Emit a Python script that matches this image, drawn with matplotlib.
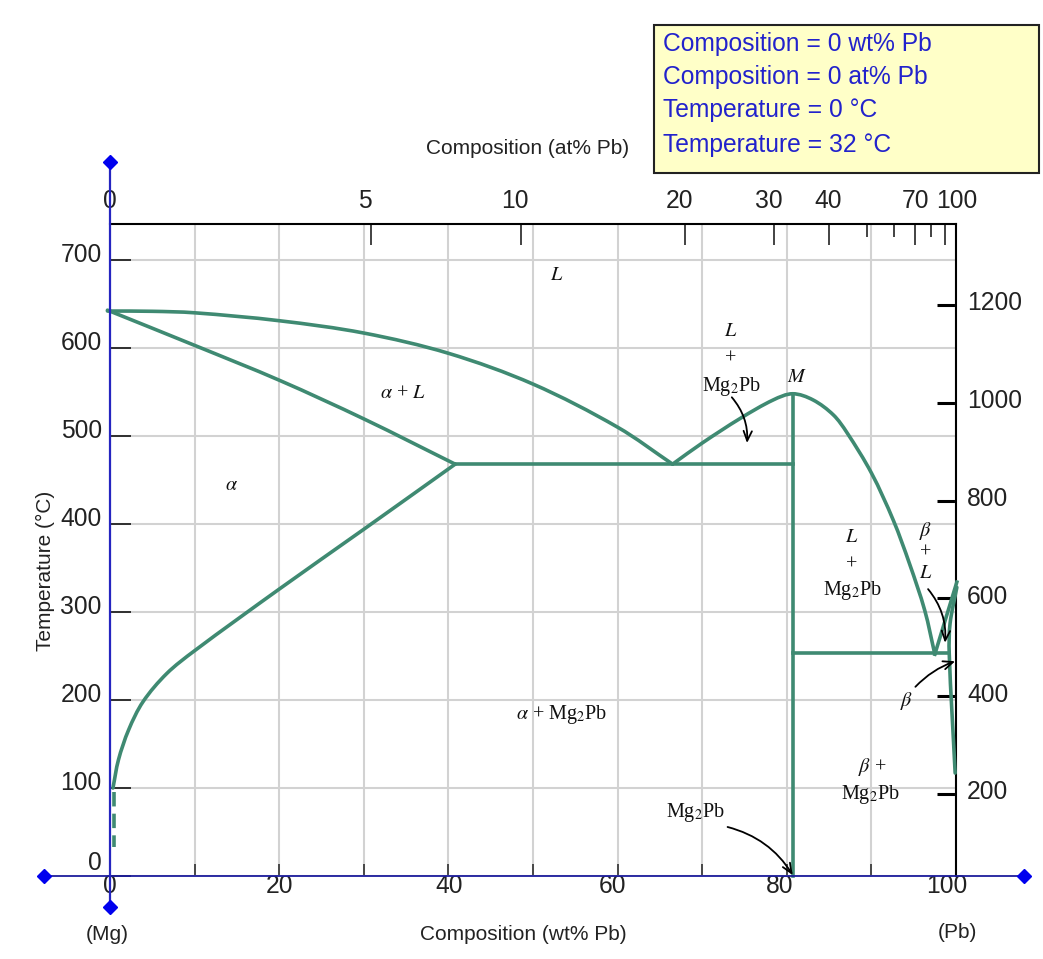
import matplotlib
matplotlib.use('Agg')
import matplotlib.pyplot as plt
from matplotlib.patches import FancyArrowPatch, PathPatch, Rectangle
from matplotlib.path import Path
from matplotlib.transforms import Affine2D, ScaledTranslation

W, H = 1043, 959

# phase boundaries (wt% Pb, deg C)
liq_left_x = [-0.3, 5, 10, 20, 30, 40, 50, 60, 66.5]
liq_left_y = [642, 641.7, 640, 631, 617, 594, 559, 510, 468]
sol_x = [-0.3, 10.0, 20.1, 30.1, 40.8]
sol_y = [643, 603, 563, 519, 468]
solvus_x = [40.8, 30, 20, 10.0, 6.7, 3.9, 2.2, 1.0, 0.35]
solvus_y = [468, 394, 326, 256, 230, 198, 166, 132, 100]
solvus_dash_x = [0.45, 0.45]
solvus_dash_y = [95, 33]
liq_dome_x = [66.5, 70.0, 74.5, 78.4, 80.7, 83.1, 85.5, 87.1, 90.0, 92.6, 94.5, 96.3, 97.5]
liq_dome_y = [468, 492, 520, 541, 548, 541, 524, 504, 458, 404, 355, 302, 252]
liq_beta_x = [97.5, 100.1]
liq_beta_y = [252, 334]
sol_beta_x = [100.1, 99.3, 99.2, 99.9]
sol_beta_y = [328, 287, 253, 117]
eutectic1_x = [40.8, 80.7]
eutectic1_y = [468, 468]
eutectic2_x = [80.7, 99.2]
eutectic2_y = [253, 253]
compound_x = [80.7, 80.7]
compound_y = [0, 548]

# axes
wt_ticks = [0, 10, 20, 30, 40, 50, 60, 70, 80, 90, 100]
wt_labels = ['0', '', '20', '', '40', '', '60', '', '80', '', '100']
wt_shift = [0, 0, 0, 0, 1, 0, -5, 0, -7, 0, -9]
temp_c_ticks = [0, 100, 200, 300, 400, 500, 600, 700]
temp_c_labels = ['0', '100', '200', '300', '400', '500', '600', '700']
temp_f_ticks = [200, 400, 600, 800, 1000, 1200]
# at% Pb ticks placed at their wt% Pb position
at_major_wt = [0, 30.9, 48.6, 68, 78.5, 85, 95.2, 98.7, 100]
at_major_labels = ['0', '5', '10', '20', '30', '40', '70', '', '100']
at_shift = [0, -7, -6, -6, -5, -1, 0, 0, 1]
at_minor_wt = [89.5, 92.7, 97.1]

readout = ['Composition = 0 wt% Pb', 'Composition = 0 at% Pb',
           'Temperature = 0 °C', 'Temperature = 32 °C']

GREEN = '#3f8a72'
SANS = 'Liberation Sans'
plt.rcParams['font.family'] = SANS
plt.rcParams['mathtext.fontset'] = 'stix'

fig = plt.figure(figsize=(W / 100, H / 100), dpi=100)
ax = fig.add_axes([110 / W, 1 - 876 / H, 846 / W, 652 / H])
ax.set_xlim(0, 100)
ax.set_ylim(0, 652 / 0.88)
px = Affine2D().scale(1 / W, -1 / H).translate(0, 1) + fig.transFigure


def nudge(label, dx, dy):
    label.set_transform(label.get_transform() + ScaledTranslation(dx / 100, dy / 100, fig.dpi_scale_trans))


def smooth_curve(xs, ys):
    # bezier segments through the read points so the boundary is not drawn as a polyline,
    # tangents weighted by on-screen spacing since the points are uneven
    pts = list(zip(xs, ys))
    n = len(pts)
    dist = [(((pts[i + 1][0] - pts[i][0]) * 8.46) ** 2 + ((pts[i + 1][1] - pts[i][1]) * 0.88) ** 2) ** 0.5
            for i in range(n - 1)]
    tang = []
    for i in range(n):
        a = max(i - 1, 0)
        b = min(i + 1, n - 1)
        span = sum(dist[a:b])
        tang.append(((pts[b][0] - pts[a][0]) / span, (pts[b][1] - pts[a][1]) / span))
    verts = [pts[0]]
    codes = [Path.MOVETO]
    for i in range(n - 1):
        d = dist[i] / 3
        verts.append((pts[i][0] + tang[i][0] * d, pts[i][1] + tang[i][1] * d))
        verts.append((pts[i + 1][0] - tang[i + 1][0] * d, pts[i + 1][1] - tang[i + 1][1] * d))
        verts.append(pts[i + 1])
        codes += [Path.CURVE4] * 3
    ax.add_patch(PathPatch(Path(verts, codes), fill=False, edgecolor=GREEN, lw=2.6,
                           capstyle='round', clip_on=False, zorder=3))


ax.set_axisbelow(True)
ax.grid(True, color='#d2d2d2', lw=1.5)
ax.set_xticks(wt_ticks, wt_labels, fontsize=17.7, color='#222222')
ax.set_yticks(temp_c_ticks, temp_c_labels, fontsize=17.7, color='#222222')
ax.tick_params(axis='x', direction='in', length=9, width=1.1, pad=0, color='#222222')
ax.tick_params(axis='y', direction='in', length=15, width=1.3, pad=6, color='#222222')
for lab, s in zip(ax.get_xticklabels(), wt_shift):
    nudge(lab, s, 2)
for lab, v in zip(ax.get_yticklabels(), temp_c_ticks):
    nudge(lab, 0, 15 if v == 0 else 7)

for side in ['top', 'right']:
    ax.spines[side].set_color('black')
    ax.spines[side].set_linewidth(1.5)
ax.spines['left'].set_visible(False)
ax.spines['bottom'].set_visible(False)

top = ax.secondary_xaxis('top')
top.set_xticks(at_major_wt, at_major_labels, fontsize=17.7, color='#222222')
top.set_xticks(at_minor_wt, minor=True)
top.tick_params(axis='x', which='major', direction='in', length=15, width=1.2, pad=8, color='#222222')
top.tick_params(axis='x', which='minor', direction='in', length=9, width=1.2, color='#222222')
top.spines['top'].set_visible(False)
for lab, s in zip(top.get_xticklabels(), at_shift):
    nudge(lab, s, 0)

right = ax.secondary_yaxis('right', functions=(lambda c: c * 1.8 + 32, lambda f: (f - 32) / 1.8))
right.set_yticks(temp_f_ticks, [str(v) for v in temp_f_ticks], fontsize=17.7, color='#222222')
right.tick_params(axis='y', direction='in', length=14, width=2.2, pad=8, color='black')
right.spines['right'].set_visible(False)
for lab in right.get_yticklabels():
    nudge(lab, 0, 4)

# phase boundaries
for xs, ys in [(liq_left_x, liq_left_y), (sol_x, sol_y), (solvus_x, solvus_y),
               (liq_dome_x, liq_dome_y), (sol_beta_x, sol_beta_y)]:
    smooth_curve(xs, ys)
for xs, ys in [(liq_beta_x, liq_beta_y), (eutectic1_x, eutectic1_y), (eutectic2_x, eutectic2_y),
               (compound_x, compound_y)]:
    ax.plot(xs, ys, color=GREEN, lw=2.6, clip_on=False, zorder=3)
ax.plot(solvus_dash_x, solvus_dash_y, color=GREEN, lw=2.6, dashes=(4, 2), clip_on=False, zorder=3)

# draggable axes of the original
ax.plot([-7.8, 108], [0, 0], color='#1c1c9c', lw=1.3, clip_on=False, zorder=4)
ax.plot([0, 0], [-35, 811], color='#2525c0', lw=1.6, clip_on=False, zorder=4)
ax.plot([-7.8, 108], [0, 0], ls='none', marker='D', ms=7.5, color='#0000ee', clip_on=False, zorder=5)
ax.plot([0, 0], [-35, 811], ls='none', marker='D', ms=7.5, color='#0000ee', clip_on=False, zorder=5)

ax.set_xlabel('Composition (wt% Pb)', fontsize=15, color='#222222')
ax.xaxis.set_label_coords(523, 935, transform=px)
ax.xaxis.label.set_va('center')
top.set_xlabel('Composition (at% Pb)', fontsize=15, color='#222222')
top.xaxis.set_label_coords(528, 148, transform=px)
top.xaxis.label.set_va('center')
ax.set_ylabel('Temperature (°C)', fontsize=15, color='#222222')
ax.yaxis.set_label_coords(45, 571, transform=px)
ax.yaxis.label.set_va('center')

fig.text(107, 934, '(Mg)', transform=px, fontsize=15, color='#222222', ha='center', va='center')
fig.text(957, 933, '(Pb)', transform=px, fontsize=15, color='#222222', ha='center', va='center')

# region labels
regions = [(557, 275, '$L$'), (731, 331, '$L$'), (731, 359, '+'), (731, 386, 'Mg$_2$Pb'),
           (797, 378, '$M$'), (403, 393, r'$\alpha$ + $L$'), (232, 486, r'$\alpha$'),
           (852, 538, '$L$'), (852, 565, '+'), (852, 591, 'Mg$_2$Pb'),
           (926, 531, r'$\beta$'), (926, 553, '+'), (926, 574, '$L$'),
           (907, 701, r'$\beta$'), (562, 714, r'$\alpha$ + Mg$_2$Pb'),
           (872, 767, r'$\beta$ +'), (870, 794, 'Mg$_2$Pb'), (695, 812, 'Mg$_2$Pb')]
for x, y, s in regions:
    fig.text(x, y, s, transform=px, family='Liberation Serif', fontsize=14.5,
             color='#111111', ha='center', va='center', zorder=6)

# leader arrows
arrows = [((73.5, 544), (75.3, 492), -0.2), ((96.7, 326), (98.7, 265), -0.2),
          ((95.2, 215), (99.9, 244), -0.12), ((73.0, 55.7), (80.7, 1), -0.2)]
for start, end, rad in arrows:
    ax.add_patch(FancyArrowPatch(start, end, connectionstyle='arc3,rad=%g' % rad,
                                 arrowstyle='->,head_length=7,head_width=3', lw=1.3, color='black',
                                 shrinkA=0, shrinkB=0, clip_on=False, zorder=5))

# readout box
fig.add_artist(Rectangle((654, 173), 385, -148, transform=px, facecolor='#ffffc8', edgecolor='#222222', lw=1.5))
for y, s in zip([44, 77, 110, 145], readout):
    fig.text(663, y, s, transform=px, fontsize=17.7, color='#2222cc', ha='left', va='center')

fig.savefig('out.png', dpi=100)
